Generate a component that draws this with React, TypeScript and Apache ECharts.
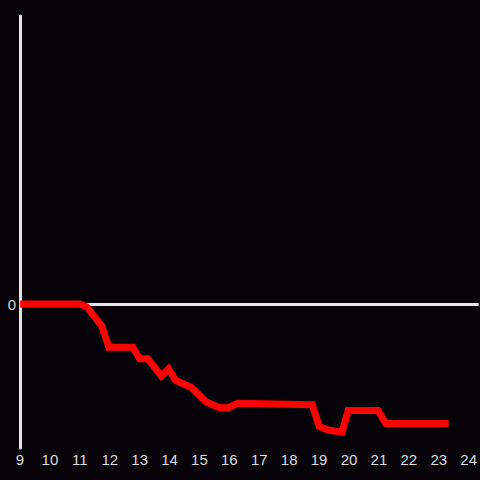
import React, { useEffect, useRef } from "react";
import * as echarts from "echarts";

const xValues = [9.0, 11.0, 11.23, 11.73, 11.97, 12.77, 13.0, 13.27, 13.73, 13.97, 14.2, 14.73, 15.23, 15.67, 15.97, 16.27, 18.77, 19.0, 19.3, 19.77, 19.97, 20.97, 21.23, 23.33];
const yValues = [0, 0, -0.02, -0.15, -0.3, -0.3, -0.38, -0.38, -0.5, -0.45, -0.53, -0.58, -0.68, -0.72, -0.72, -0.69, -0.7, -0.85, -0.875, -0.89, -0.74, -0.74, -0.83, -0.83];
const xTicks = [9, 10, 11, 12, 13, 14, 15, 16, 17, 18, 19, 20, 21, 22, 23, 24];
const yTickLabels = ["0"];

export default function App() {
  const ref = useRef<HTMLDivElement>(null);
  useEffect(() => {
    if (!ref.current) return;
    const chart = echarts.init(ref.current, undefined, { renderer: "svg" });
    const data = xValues.map((x, i) => [x, yValues[i]]);
    chart.setOption({
      animation: false,
      backgroundColor: "#050307",
      grid: { left: 20, right: 0, top: 16, bottom: 32 },
      xAxis: {
        type: "value",
        min: 9,
        max: 24.333,
        interval: 1,
        axisLine: { show: false },
        axisTick: { show: false },
        splitLine: { show: false },
        axisLabel: {
          color: "#dddddd",
          fontSize: 15,
          fontFamily: "sans-serif",
          margin: 4,
          showMaxLabel: false,
          formatter: (v: number) => (xTicks.includes(v) ? String(v) : ""),
        },
      },
      yAxis: {
        type: "value",
        min: -1,
        max: 2,
        interval: 1,
        axisLine: { show: true, onZero: false, lineStyle: { color: "#e6e6e6", width: 3 } },
        axisTick: { show: false },
        splitLine: { show: false },
        axisLabel: {
          color: "#dddddd",
          fontSize: 15,
          fontFamily: "sans-serif",
          margin: 4,
          formatter: (v: number) => (yTickLabels.includes(String(v)) ? String(v) : ""),
        },
      },
      series: [
        {
          type: "line",
          data: [],
          z: 1,
          markLine: {
            silent: true,
            symbol: "none",
            label: { show: false },
            lineStyle: { color: "#e6e6e6", width: 3, type: "solid" },
            data: [{ yAxis: 0 }],
          },
        },
        {
          type: "line",
          data,
          z: 5,
          showSymbol: false,
          symbol: "none",
          lineStyle: { color: "#ff0000", width: 7, join: "miter" },
        },
      ],
    });
    return () => chart.dispose();
  }, []);
  return (
    <div
      ref={ref}
      style={{ position: "fixed", left: 0, top: 0, width: 480, height: 480 }}
    />
  );
}
